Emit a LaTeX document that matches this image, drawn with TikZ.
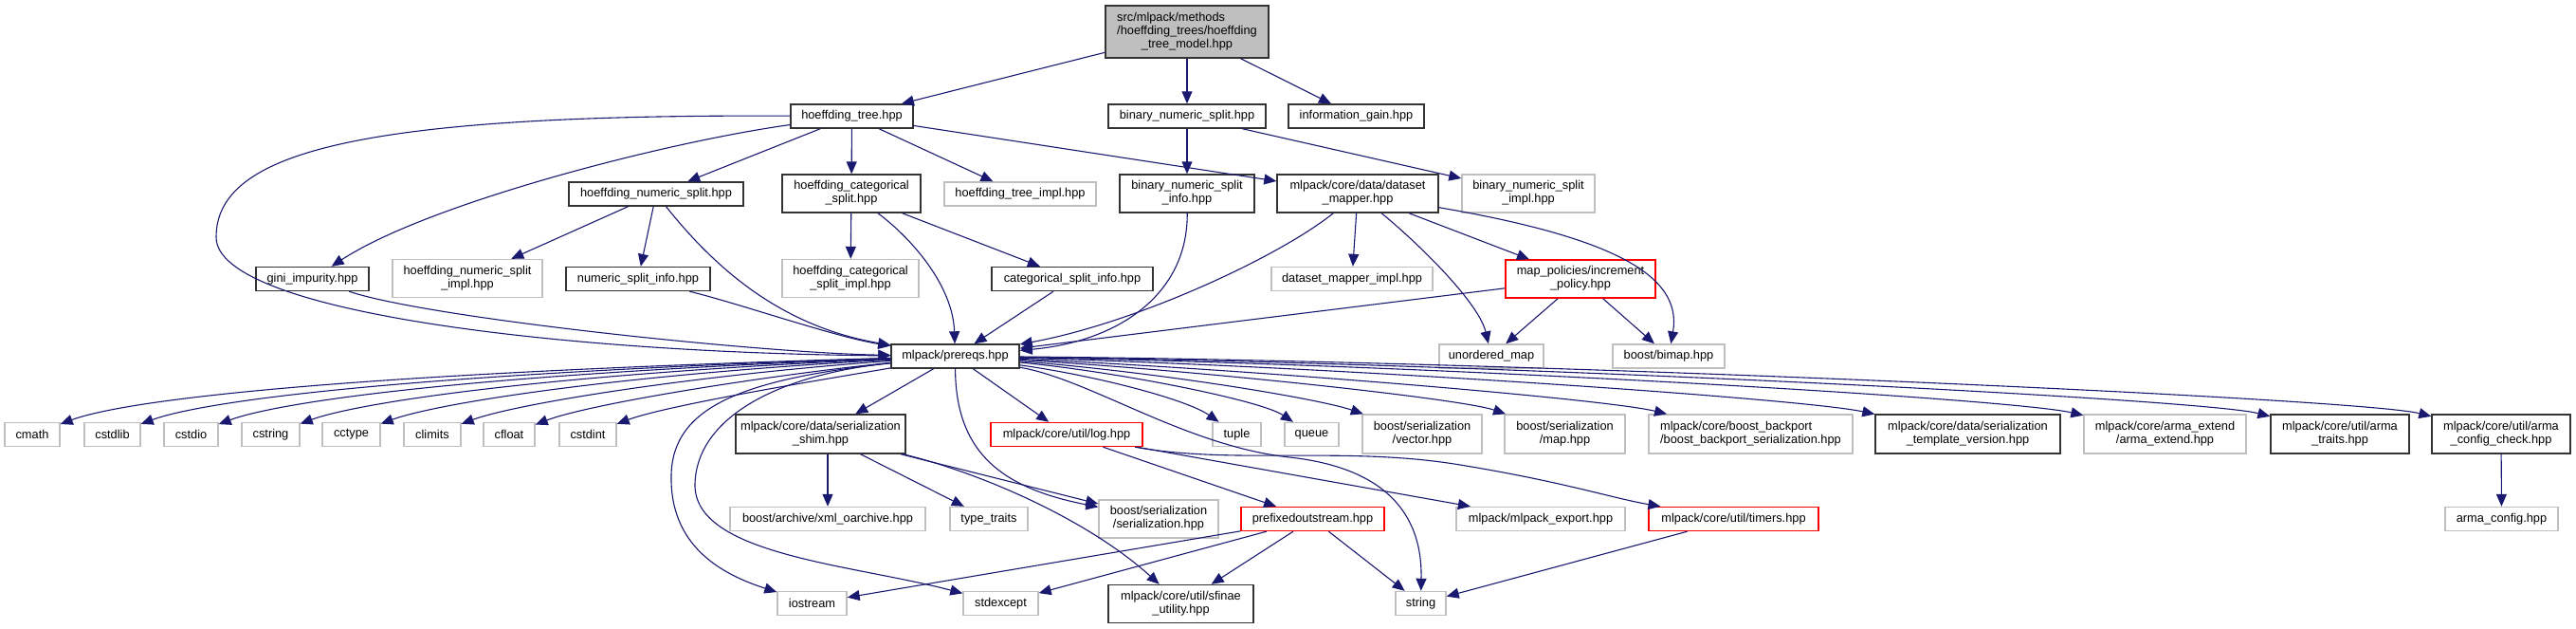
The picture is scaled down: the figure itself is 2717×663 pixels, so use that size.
\documentclass[tikz,border=0pt]{standalone}
\usepackage{fontspec}
\setmainfont{Liberation Sans}
\usetikzlibrary{arrows.meta}
\definecolor{navy}{RGB}{25,25,112}
\definecolor{gry75}{RGB}{191,191,191}
\newcommand\fn{\fontsize{6.4}{7}\selectfont}
\newcommand\tl[2]{\begin{tabular}{@{}l@{}}#1\\\multicolumn{1}{@{}c@{}}{#2}\end{tabular}}
\newcommand\nd[7]{\node[#1, minimum width=#5*0.5pt, minimum height=#6*0.5pt] (#2) at (#3,#4) {#7};}
\begin{document}
\begin{tikzpicture}[x=0.5pt, y=-0.5pt,
  box/.style={rectangle, inner sep=0pt, fill=white, font=\fn, line width=0.7pt},
  blk/.style={box, draw=black!80},
  gry/.style={box, draw=gry75},
  rd/.style={box, draw=red},
  rootbox/.style={box, draw=black!80, fill=gry75},
  edge/.style={draw=navy, line width=0.55pt, -{Triangle[length=6.5pt,width=5.5pt]}}]
\useasboundingbox (0,0) rectangle (2717,663);
% nodes
\nd{rootbox}{root}{1252}{33.5}{172}{55}{\tl{src/mlpack/methods\\/hoeffding\_trees/hoeffding}{\_tree\_model.hpp}}
\nd{blk}{ht}{898.5}{122.5}{129}{25}{hoeffding\_tree.hpp}
\nd{blk}{bns}{1252}{122.5}{166}{25}{binary\_numeric\_split.hpp}
\nd{blk}{ig}{1430.5}{122.5}{143}{25}{information\_gain.hpp}
\nd{blk}{hns}{692}{204.5}{184}{25}{hoeffding\_numeric\_split.hpp}
\nd{blk}{hcs}{898}{204}{146}{40}{\tl{hoeffding\_categorical}{\_split.hpp}}
\nd{gry}{hti}{1076}{204.5}{160}{25}{hoeffding\_tree\_impl.hpp}
\nd{blk}{bnsi}{1252}{204}{142}{40}{\tl{binary\_numeric\_split}{\_info.hpp}}
\nd{blk}{dm}{1432}{204}{170}{40}{\tl{mlpack/core/data/dataset}{\_mapper.hpp}}
\nd{gry}{bnsimpl}{1612}{204}{140}{40}{\tl{binary\_numeric\_split}{\_impl.hpp}}
\nd{blk}{gini}{329.5}{294}{119}{25}{gini\_impurity.hpp}
\nd{gry}{hnsi}{493}{293.5}{158}{40}{\tl{hoeffding\_numeric\_split}{\_impl.hpp}}
\nd{blk}{nsi}{673}{294}{152}{25}{numeric\_split\_info.hpp}
\nd{gry}{hcsi}{897}{293.5}{144}{40}{\tl{hoeffding\_categorical}{\_split\_impl.hpp}}
\nd{blk}{csi}{1131}{294}{170}{25}{categorical\_split\_info.hpp}
\nd{gry}{dmi}{1426}{294}{170}{25}{dataset\_mapper\_impl.hpp}
\nd{rd}{ip}{1667}{294}{158}{40}{\tl{map\_policies/increment}{\_policy.hpp}}
\nd{blk}{prereqs}{1007.5}{375.5}{135}{25}{mlpack/prereqs.hpp}
\nd{gry}{um}{1573}{375.5}{110}{25}{unordered\_map}
\nd{gry}{bimap}{1760}{375.5}{118}{25}{boost/bimap.hpp}
\nd{gry}{cmath}{34}{458}{58}{25}{cmath}
\nd{gry}{cstdlib}{118.5}{458}{59}{25}{cstdlib}
\nd{gry}{cstdio}{201.5}{458}{57}{25}{cstdio}
\nd{gry}{cstring}{285.5}{458}{61}{25}{cstring}
\nd{gry}{cctype}{370.5}{458}{61}{25}{cctype}
\nd{gry}{climits}{456}{458}{60}{25}{climits}
\nd{gry}{cfloat}{537}{458}{54}{25}{cfloat}
\nd{gry}{cstdint}{620}{458}{60}{25}{cstdint}
\nd{blk}{shim}{865.5}{457.5}{179}{41}{\tl{mlpack/core/data/serialization}{\_shim.hpp}}
\nd{rd}{log}{1125}{458}{160}{25}{mlpack/core/util/log.hpp}
\nd{gry}{tuple}{1304.5}{458}{51}{25}{tuple}
\nd{gry}{queue}{1383.5}{458}{57}{25}{queue}
\nd{gry}{vec}{1500}{457.5}{126}{41}{\tl{boost/serialization}{/vector.hpp}}
\nd{gry}{map}{1650.5}{457.5}{127}{41}{\tl{boost/serialization}{/map.hpp}}
\nd{gry}{bbs}{1846.5}{457.5}{215}{41}{\tl{mlpack/core/boost\_backport}{/boost\_backport\_serialization.hpp}}
\nd{blk}{stv}{2075.5}{457.5}{195}{41}{\tl{mlpack/core/data/serialization}{\_template\_version.hpp}}
\nd{gry}{ae}{2283.5}{457.5}{171}{41}{\tl{mlpack/core/arma\_extend}{/arma\_extend.hpp}}
\nd{blk}{at}{2468}{457.5}{146}{41}{\tl{mlpack/core/util/arma}{\_traits.hpp}}
\nd{blk}{acc}{2638}{457.5}{146}{41}{\tl{mlpack/core/util/arma}{\_config\_check.hpp}}
\nd{gry}{xml}{873}{547}{206}{25}{boost/archive/xml\_oarchive.hpp}
\nd{gry}{tt}{1043}{547}{82}{25}{type\_traits}
\nd{gry}{ser}{1222}{547}{126}{40}{\tl{boost/serialization}{/serialization.hpp}}
\nd{rd}{pos}{1384.5}{547}{151}{25}{prefixedoutstream.hpp}
\nd{gry}{mexp}{1625}{547}{178}{25}{mlpack/mlpack\_export.hpp}
\nd{rd}{timers}{1828.5}{547}{179}{25}{mlpack/core/util/timers.hpp}
\nd{gry}{acfg}{2638.5}{547}{119}{25}{arma\_config.hpp}
\nd{gry}{ios}{856.5}{636}{73}{25}{iostream}
\nd{gry}{stdx}{1055.5}{636}{79}{25}{stdexcept}
\nd{blk}{sfin}{1245.5}{636.5}{153}{40}{\tl{mlpack/core/util/sfinae}{\_utility.hpp}}
\nd{gry}{str}{1498.5}{636}{53}{25}{string}
% edges
\draw[edge] (root) -- (ht);
\draw[edge] (root) -- (bns);
\draw[edge] (root) -- (ig);
\draw[edge] (ht) -- (hns);
\draw[edge] (ht) -- (hcs);
\draw[edge] (ht) -- (hti);
\draw[edge] (ht) -- (dm);
\draw[edge] (ht) .. controls (700,150) and (450,215) .. (gini);
\draw[edge] (ht) .. controls (380,120) and (228,160) .. (228,250) .. controls (228,330) and (600,372) .. (prereqs);
\draw[edge] (hns) -- (hnsi);
\draw[edge] (hns) -- (nsi);
\draw[edge] (hns) .. controls (760,290) and (830,345) .. (prereqs);
\draw[edge] (gini) .. controls (450,335) and (800,372) .. (prereqs);
\draw[edge] (nsi) .. controls (780,320) and (880,355) .. (prereqs);
\draw[edge] (hcs) -- (hcsi);
\draw[edge] (hcs) .. controls (960,250) and (1005,300) .. (prereqs);
\draw[edge] (hcs) -- (csi);
\draw[edge] (csi) -- (prereqs);
\draw[edge] (bns) -- (bnsi);
\draw[edge] (bns) -- (bnsimpl);
\draw[edge] (bnsi) .. controls (1253,310) and (1180,360) .. (prereqs);
\draw[edge] (dm) .. controls (1350,270) and (1200,340) .. (prereqs);
\draw[edge] (dm) -- (dmi);
\draw[edge] (dm) .. controls (1500,260) and (1560,320) .. (um);
\draw[edge] (dm) -- (ip);
\draw[edge] (dm) .. controls (1700,250) and (1775,290) .. (bimap);
\draw[edge] (ip) -- (prereqs);
\draw[edge] (ip) -- (um);
\draw[edge] (ip) -- (bimap);
\foreach \t/\r in {cmath/63, cstdlib/148, cstdio/230, cstring/316, cctype/401, climits/486, cfloat/564, cstdint/650}
  \draw[edge] (prereqs) .. controls (\r+250,395) and (\r+60,425) .. (\t);
\draw[edge] (prereqs) -- (shim);
\draw[edge] (prereqs) -- (log);
\draw[edge] (prereqs) .. controls (780,400) and (710,430) .. (708,500) .. controls (706,575) and (760,605) .. (ios);
\draw[edge] (prereqs) .. controls (820,395) and (735,440) .. (733,510) .. controls (731,585) and (900,595) .. (stdx);
\draw[edge] (prereqs) .. controls (1008,480) and (1060,515) .. (ser);
\draw[edge] (prereqs) .. controls (1150,400) and (1250,470) .. (1360,482) .. controls (1480,495) and (1500,560) .. (str);
\draw[edge] (prereqs) .. controls (1150,395) and (1250,420) .. (tuple);
\draw[edge] (prereqs) .. controls (1180,392) and (1330,422) .. (queue);
\draw[edge] (prereqs) .. controls (1220,392) and (1390,420) .. (vec);
\draw[edge] (prereqs) .. controls (1260,390) and (1540,420) .. (map);
\draw[edge] (prereqs) .. controls (1300,388) and (1690,420) .. (bbs);
\draw[edge] (prereqs) .. controls (1400,386) and (1900,420) .. (stv);
\draw[edge] (prereqs) .. controls (1500,384) and (2120,420) .. (ae);
\draw[edge] (prereqs) .. controls (1550,382) and (2320,420) .. (at);
\draw[edge] (prereqs) .. controls (1600,380) and (2490,420) .. (acc);
\draw[edge] (xml.north |- shim.south) -- (xml.north);
\draw[edge] (shim) -- (tt);
\draw[edge] (shim) -- (ser);
\draw[edge] (shim) .. controls (1040,500) and (1150,550) .. (sfin);
\draw[edge] (log) -- (pos);
\draw[edge] (log) -- (mexp);
\draw[edge] (log) .. controls (1300,490) and (1420,470) .. (1540,490) .. controls (1650,508) and (1700,525) .. (timers);
\draw[edge] (pos) -- (ios);
\draw[edge] (pos) -- (stdx);
\draw[edge] (pos) -- (sfin);
\draw[edge] (pos) -- (str);
\draw[edge] (timers) -- (str);
\draw[edge] (acc) -- (acfg);
\end{tikzpicture}
\end{document}
